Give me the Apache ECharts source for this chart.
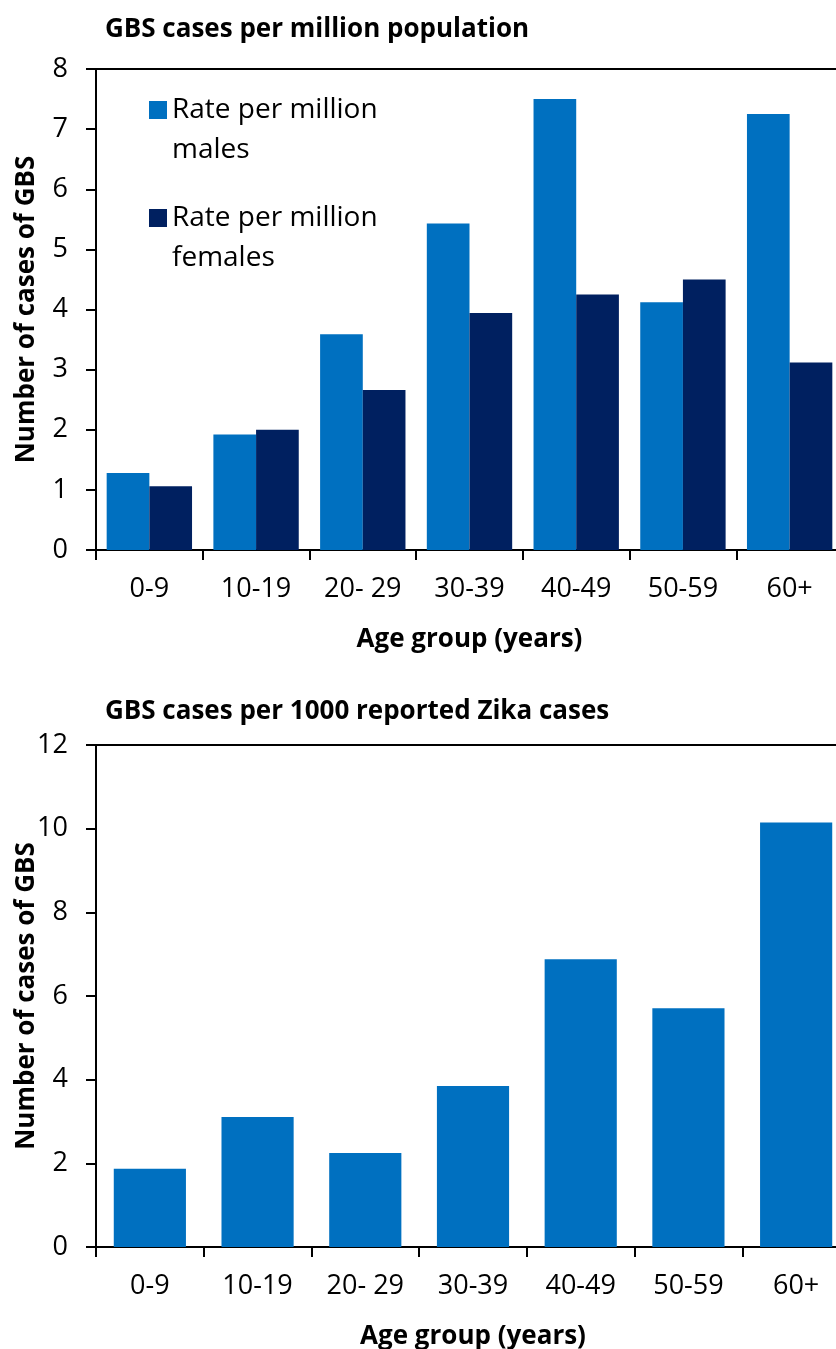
<!DOCTYPE html>
<html>
<head>
<meta charset="utf-8">
<script src="https://cdn.jsdelivr.net/npm/echarts@6/dist/echarts.min.js"></script>
<style>
  html, body { margin: 0; padding: 0; background: #fff; overflow: hidden; }
  #main { width: 836px; height: 1349px; }
</style>
</head>
<body>
<div id="main"></div>
<script>
// age groups on both charts
const ageGroups = ['0-9', '10-19', '20- 29', '30-39', '40-49', '50-59', '60+'];

// top chart: GBS cases per million population
const malesRate = [1.28, 1.92, 3.59, 5.43, 7.50, 4.12, 7.25];
const femalesRate = [1.06, 2.00, 2.66, 3.94, 4.25, 4.50, 3.12];

// bottom chart: GBS cases per 1000 reported Zika cases
const perZikaCases = [1.87, 3.11, 2.25, 3.85, 6.88, 5.71, 10.15];

const topTicks = [0, 8, 1];
const bottomTicks = [0, 12, 2];

const font = '"Open Sans", "Noto Sans", sans-serif';
const black = '#000';
const lightBlue = '#0070C0';
const navy = '#002060';

let myChart = echarts.init(document.getElementById('main'));

const axisLineStyle = { lineStyle: { color: black, width: 2 } };

function catAxis(gridIndex) {
  return {
    type: 'category',
    gridIndex: gridIndex,
    data: ageGroups,
    axisLine: axisLineStyle,
    axisTick: { show: true, length: 10, lineStyle: { color: black, width: 2 } },
    axisLabel: { color: black, fontSize: 27, fontFamily: font, margin: 26 },
    name: 'Age group (years)',
    nameLocation: 'middle',
    nameGap: 77,
    nameMoveOverlap: false,
    nameTextStyle: { color: black, fontSize: 26, fontWeight: 'bold', fontFamily: font }
  };
}

function topLine(gridIndex) {
  return {
    type: 'category',
    gridIndex: gridIndex,
    position: 'top',
    data: ageGroups,
    axisLine: axisLineStyle,
    axisTick: { show: false },
    axisLabel: { show: false }
  };
}

function valAxis(gridIndex, ticks) {
  return {
    type: 'value',
    gridIndex: gridIndex,
    min: ticks[0],
    max: ticks[1],
    interval: ticks[2],
    splitLine: { show: false },
    axisLine: { show: true, lineStyle: { color: black, width: 2 } },
    axisTick: { show: true, length: 10, lineStyle: { color: black, width: 2 } },
    axisLabel: { color: black, fontSize: 27, fontFamily: font, margin: 28 },
    name: 'Number of cases of GBS',
    nameLocation: 'middle',
    nameGap: 56,
    nameMoveOverlap: false,
    nameTextStyle: { color: black, fontSize: 26, fontWeight: 'bold', fontFamily: font }
  };
}

// legend text: blank first line so the icon sits beside the first real line
function legendItem(name, top) {
  return {
    data: [name],
    left: 149,
    top: top,
    padding: 0,
    itemWidth: 18,
    itemHeight: 18,
    selectedMode: false,
    icon: 'rect',
    formatter: function (n) { return ' \n' + n.replace('million ', 'million\n'); },
    textStyle: { color: black, fontSize: 28, fontFamily: font, lineHeight: 40 }
  };
}

myChart.setOption({
  animation: false,
  backgroundColor: '#fff',
  title: [
    {
      text: 'GBS cases per million population',
      left: 100, top: 12,
      textStyle: { color: black, fontSize: 26, fontWeight: 'bold', fontFamily: font }
    },
    {
      text: 'GBS cases per 1000 reported Zika cases',
      left: 100, top: 694,
      textStyle: { color: black, fontSize: 26, fontWeight: 'bold', fontFamily: font }
    }
  ],
  legend: [
    legendItem('Rate per million males', 50),
    legendItem('Rate per million females', 158)
  ],
  grid: [
    { left: 96, top: 69, height: 481, right: -7, outerBoundsMode: 'none' },
    { left: 96, top: 745, height: 502, right: -14, outerBoundsMode: 'none' }
  ],
  xAxis: [catAxis(0), catAxis(1), topLine(0), topLine(1)],
  yAxis: [valAxis(0, topTicks), valAxis(1, bottomTicks)],
  series: [
    {
      name: 'Rate per million males',
      type: 'bar',
      xAxisIndex: 0, yAxisIndex: 0,
      data: malesRate,
      barGap: '0%',
      barCategoryGap: '20%',
      itemStyle: { color: lightBlue }
    },
    {
      name: 'Rate per million females',
      type: 'bar',
      xAxisIndex: 0, yAxisIndex: 0,
      data: femalesRate,
      barGap: '0%',
      barCategoryGap: '20%',
      itemStyle: { color: navy }
    },
    {
      name: 'GBS cases per 1000 reported Zika cases',
      type: 'bar',
      xAxisIndex: 1, yAxisIndex: 1,
      data: perZikaCases,
      barCategoryGap: '33%',
      itemStyle: { color: lightBlue }
    }
  ]
});
</script>
</body>
</html>
